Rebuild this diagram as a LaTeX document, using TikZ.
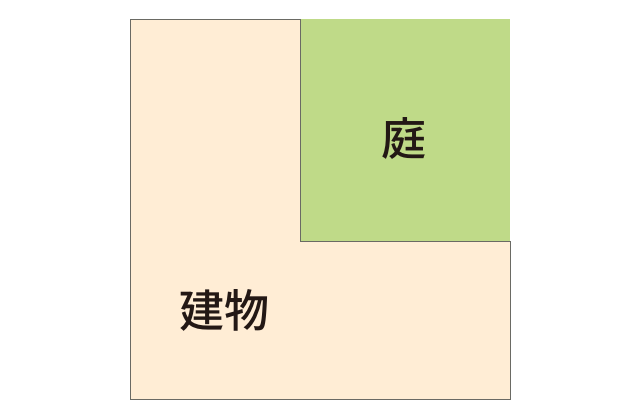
\documentclass[tikz,border=0pt]{standalone}
\usepackage{fontspec}
\newfontfamily\cjk{Noto Sans CJK JP Medium}
\definecolor{buildcol}{HTML}{FFEDD5}
\definecolor{gardencol}{HTML}{BFDA88}
\definecolor{edgecol}{HTML}{6A6A64}
\definecolor{textcol}{HTML}{231815}
\begin{document}
\begin{tikzpicture}[x=1pt,y=-1pt]
        \useasboundingbox (0,0) rectangle (640,420);
        \tikzset{label/.style={text=textcol,font=\cjk\fontsize{45}{45}\selectfont,inner sep=0pt}}
        \fill[buildcol] (130,19) rectangle (510,399);
        \fill[gardencol] (300,19) rectangle (510,241);
        \draw[edgecol,line width=0.9pt] (130,19) -- (300,19) -- (300,241) -- (510,241) -- (510,399) -- (130,399) -- cycle;
        \node[label] (niwa) at (404,138) {庭};
        \node[label] (tatemono) at (224,310) {建物};
        \end{tikzpicture}
\end{document}
